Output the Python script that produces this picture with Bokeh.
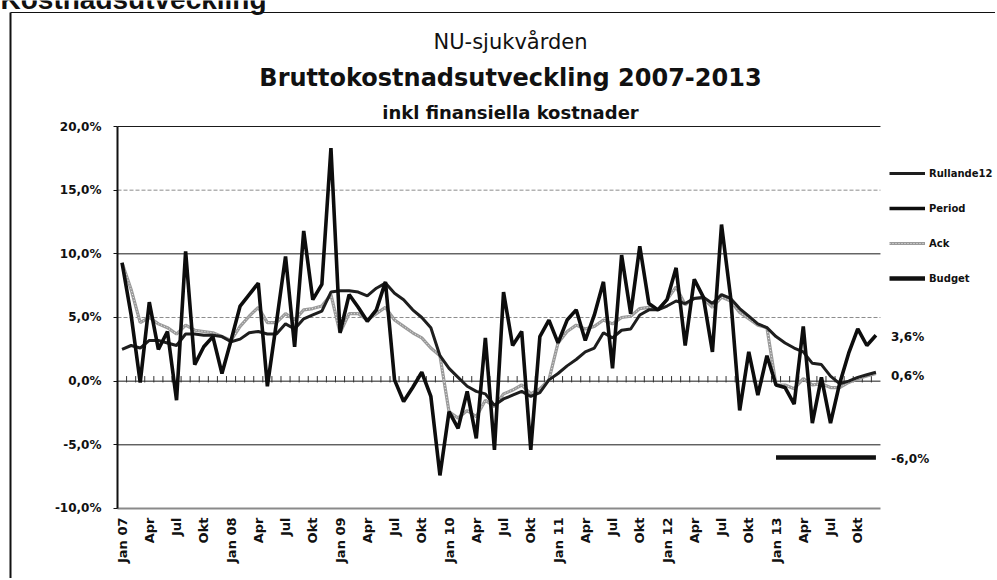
import numpy as np
import pandas as pd
from bokeh.plotting import figure
from bokeh.models import Range1d, FixedTicker, Label, Legend, LegendItem
from bokeh.embed import file_html
from bokeh.resources import INLINE

# ---------------- data ----------------
months = pd.period_range("2007-01", "2013-12", freq="M").strftime("%Y-%m").tolist()

x_tick_labels = ["Jan 07", "Apr", "Jul", "Okt", "Jan 08", "Apr", "Jul", "Okt",
                 "Jan 09", "Apr", "Jul", "Okt", "Jan 10", "Apr", "Jul", "Okt",
                 "Jan 11", "Apr", "Jul", "Okt", "Jan 12", "Apr", "Jul", "Okt",
                 "Jan 13", "Apr", "Jul", "Okt"]

y_ticks = [-10, -5, 0, 5, 10, 15, 20]
y_tick_labels = ["-10,0%", "-5,0%", "0,0%", "5,0%", "10,0%", "15,0%", "20,0%"]

period = [
    9.3, 5.2, -0.1, 6.2, 2.5, 3.9, -1.5, 10.2, 1.3, 2.7, 3.5, 0.6,      # 2007
    3.2, 5.9, 6.8, 7.7, -0.4, 4.6, 9.8, 2.7, 11.8, 6.4, 7.6, 18.3,      # 2008
    3.8, 6.8, 5.8, 4.7, 5.6, 7.8, 0.1, -1.6, -0.5, 0.7, -1.2, -7.4,     # 2009
    -2.4, -3.7, -0.8, -4.5, 3.4, -5.4, 7.0, 2.8, 3.9, -5.4, 3.5, 4.8,   # 2010
    3.0, 4.8, 5.6, 3.2, 5.2, 7.8, 1.0, 9.9, 5.3, 10.6, 6.1, 5.6,        # 2011
    6.4, 8.9, 2.8, 8.0, 6.6, 2.3, 12.3, 6.6, -2.3, 2.3, -1.1, 2.0,      # 2012
    -0.3, -0.5, -1.8, 4.3, -3.3, 0.3, -3.3, -0.2, 2.2, 4.1, 2.8, 3.6,   # 2013
]

rullande12 = [
    2.5, 2.8, 2.6, 3.2, 3.2, 3.0, 2.8, 3.7, 3.7, 3.6, 3.6, 3.5,
    3.1, 3.3, 3.8, 3.9, 3.7, 3.7, 4.5, 4.1, 4.9, 5.2, 5.5, 7.0,
    7.1, 7.1, 7.0, 6.7, 7.3, 7.7, 6.9, 6.4, 5.6, 5.0, 4.2, 2.0,
    1.0, 0.3, -0.4, -0.8, -1.0, -1.9, -1.4, -1.1, -0.8, -1.2, -0.9, 0.1,
    0.6, 1.2, 1.7, 2.3, 2.6, 3.8, 3.4, 4.0, 4.1, 5.2, 5.6, 5.6,
    5.9, 6.3, 6.1, 6.5, 6.6, 6.1, 6.8, 6.5, 5.7, 5.1, 4.5, 4.2,
    3.5, 3.0, 2.6, 2.3, 1.4, 1.3, 0.4, -0.2, 0.0, 0.3, 0.5, 0.7,
]

ack = [
    9.3, 7.2, 4.6, 5.0, 4.5, 4.2, 3.7, 4.4, 4.0, 3.9, 3.8, 3.5,
    3.2, 4.3, 5.1, 5.8, 4.6, 4.6, 5.3, 4.8, 5.6, 5.7, 5.9, 6.8,
    3.8, 5.3, 5.3, 4.8, 5.3, 5.8, 4.8, 4.3, 3.8, 3.4, 2.6, 2.0,
    -2.4, -2.9, -2.3, -2.8, -1.5, -2.0, -1.0, -0.7, -0.3, -1.0, -0.6, 0.1,
    3.0, 3.9, 4.4, 4.1, 4.3, 4.8, 4.5, 5.0, 5.1, 5.7, 5.8, 5.6,
    6.4, 7.4, 6.0, 6.5, 6.5, 5.8, 6.6, 6.3, 5.4, 4.9, 4.4, 4.2,
    -0.3, -0.3, -0.6, 0.2, -0.3, -0.2, -0.5, -0.5, -0.1, 0.2, 0.4, 0.6,
]

budget_months = months[72:]
budget = [-6.0, -6.0, -6.0, -6.0, -6.0, -6.0, -6.0, -6.0, -6.0, -6.0, -6.0, -6.0]

# ---------------- geometry ----------------
n = len(months)
x = list(range(n))
bx = [months.index(m) for m in budget_months]

W, H = 995, 578          # whole canvas is the frame
X_PX = 9.083             # pixels per month
Y_PX = 12.733            # pixels per percent
AX_LEFT, AX_TOP = 117, 126   # pixel position of plot-area left edge / 20% line
x_lo, x_hi = -0.5, n - 0.5
y_lo, y_hi = y_ticks[0], y_ticks[-1]

xs = x_lo - AX_LEFT / X_PX
ys_top = y_hi + AX_TOP / Y_PX

p = figure(width=W, height=H,
           x_range=Range1d(xs, xs + W / X_PX),
           y_range=Range1d(ys_top - H / Y_PX, ys_top),
           output_backend="svg", toolbar_location=None,
           min_border=0, min_border_left=0, min_border_right=0,
           min_border_top=0, min_border_bottom=0,
           background_fill_color="white", border_fill_color="white")
p.outline_line_color = None
p.xgrid.visible = False
p.ygrid.visible = False

def px_to_x(px):
    return xs + px / X_PX

def px_to_y(py):
    return ys_top - py / Y_PX

# box border of the scanned page (left + top)
p.segment(x0=[px_to_x(10), px_to_x(10)], y0=[px_to_y(12), px_to_y(12)],
          x1=[px_to_x(10), px_to_x(W)], y1=[px_to_y(H), px_to_y(12)],
          line_color="#111111", line_width=[2, 1])

# header (cut at top edge as in the scan)
p.add_layout(Label(x=px_to_x(0), y=px_to_y(-1), text="Kostnadsutveckling",
                   text_baseline="alphabetic", text_font="Liberation Sans",
                   text_font_style="bold", text_font_size="28px", text_color="#111111"))

# grid lines (limited to the plot area)
dark_levels = [20, 10, 0, -5]
gray_levels = [15, 5]
p.segment(x0=[x_lo] * len(dark_levels), x1=[x_hi] * len(dark_levels),
          y0=dark_levels, y1=dark_levels, line_color="#1a1a1a", line_width=1)
p.segment(x0=[x_lo] * len(gray_levels), x1=[x_hi] * len(gray_levels),
          y0=gray_levels, y1=gray_levels, line_color="#8c8c8c", line_width=1,
          line_dash="4 2")

# tick marks on the zero line (category boundaries)
xb = [i + 0.5 for i in x[:-1]]
p.segment(x0=xb, y0=[-0.1] * len(xb), x1=xb, y1=[0.4] * len(xb),
          line_color="#333333", line_width=1)

# axes (fixed inside the canvas)
p.yaxis.fixed_location = x_lo
p.yaxis.bounds = (y_lo, y_hi)
p.yaxis.ticker = FixedTicker(ticks=y_ticks)
p.yaxis.major_label_overrides = dict(zip(y_ticks, y_tick_labels))
p.yaxis.axis_line_width = 2
p.yaxis.axis_line_color = "#111111"
p.yaxis.major_tick_out = 4
p.yaxis.major_tick_in = 0
p.yaxis.major_tick_line_color = "#111111"
p.yaxis.minor_tick_line_color = None
p.yaxis.major_label_standoff = 12
p.yaxis.major_label_text_font = "DejaVu Sans"
p.yaxis.major_label_text_font_style = "bold"
p.yaxis.major_label_text_font_size = "12px"
p.yaxis.major_label_text_color = "#111111"

x_ticks = list(range(0, n, 3))
p.xaxis.fixed_location = y_lo
p.xaxis.bounds = (x_lo, x_hi)
p.xaxis.ticker = FixedTicker(ticks=x_ticks)
p.xaxis.major_label_overrides = dict(zip(x_ticks, x_tick_labels))
p.xaxis.major_label_orientation = np.pi / 2
p.xaxis.axis_line_color = "#8a8a8a"
p.xaxis.axis_line_width = 2
p.xaxis.major_tick_out = 0
p.xaxis.major_tick_in = 0
p.xaxis.minor_tick_line_color = None
p.xaxis.major_label_standoff = 9
p.xaxis.major_label_text_font = "DejaVu Sans"
p.xaxis.major_label_text_font_style = "bold"
p.xaxis.major_label_text_font_size = "13px"
p.xaxis.major_label_text_color = "#111111"

# series
r_bud = p.line(bx, budget, line_color="#111111", line_width=4.5)
r_ack = p.line(x, ack, line_color="#9a9a9a", line_width=3.2)
r_ack2 = p.line(x, ack, line_color="#eeeeee", line_width=1, line_dash="1 2")
r_roll = p.line(x, rullande12, line_color="#1e1e1e", line_width=3)
r_per = p.line(x, period, line_color="#0d0d0d", line_width=3.6)

legend = Legend(items=[LegendItem(label="Rullande12", renderers=[r_roll]),
                       LegendItem(label="Period", renderers=[r_per]),
                       LegendItem(label="Ack", renderers=[r_ack, r_ack2]),
                       LegendItem(label="Budget", renderers=[r_bud])],
                location=(889, H - 288), orientation="vertical",
                glyph_width=36, glyph_height=20, label_height=20, spacing=15,
                padding=0, margin=0, label_standoff=4,
                border_line_color=None, background_fill_alpha=0,
                label_text_font="DejaVu Sans", label_text_font_style="bold",
                label_text_font_size="10px", label_text_color="#111111")
p.add_layout(legend)

# end labels
def pct(v):
    return f"{v:.1f}".replace(".", ",") + "%"

for val in (period[-1], ack[-1]):
    p.add_layout(Label(x=x[-1], y=val, x_offset=15, y_offset=-2, text=pct(val),
                       text_baseline="middle", text_font="DejaVu Sans",
                       text_font_style="bold", text_font_size="12px", text_color="#111111"))
p.add_layout(Label(x=bx[-1], y=budget[-1], x_offset=15, y_offset=-1, text=pct(budget[-1]),
                   text_baseline="middle", text_font="DejaVu Sans",
                   text_font_style="bold", text_font_size="12px", text_color="#111111"))

# titles
title_x = px_to_x(510)
p.add_layout(Label(x=title_x, y=px_to_y(41), text="NU-sjukvården", text_align="center",
                   text_baseline="alphabetic", text_font="DejaVu Sans",
                   text_font_size="21px", text_color="#111111"))
p.add_layout(Label(x=title_x, y=px_to_y(77), text="Bruttokostnadsutveckling 2007-2013",
                   text_align="center", text_baseline="alphabetic", text_font="DejaVu Sans",
                   text_font_style="bold", text_font_size="24px", text_color="#111111"))
p.add_layout(Label(x=title_x, y=px_to_y(112), text="inkl finansiella kostnader",
                   text_align="center", text_baseline="alphabetic", text_font="DejaVu Sans",
                   text_font_style="bold", text_font_size="18px", text_color="#111111"))

open("out.html", "w").write(file_html(p, INLINE))
